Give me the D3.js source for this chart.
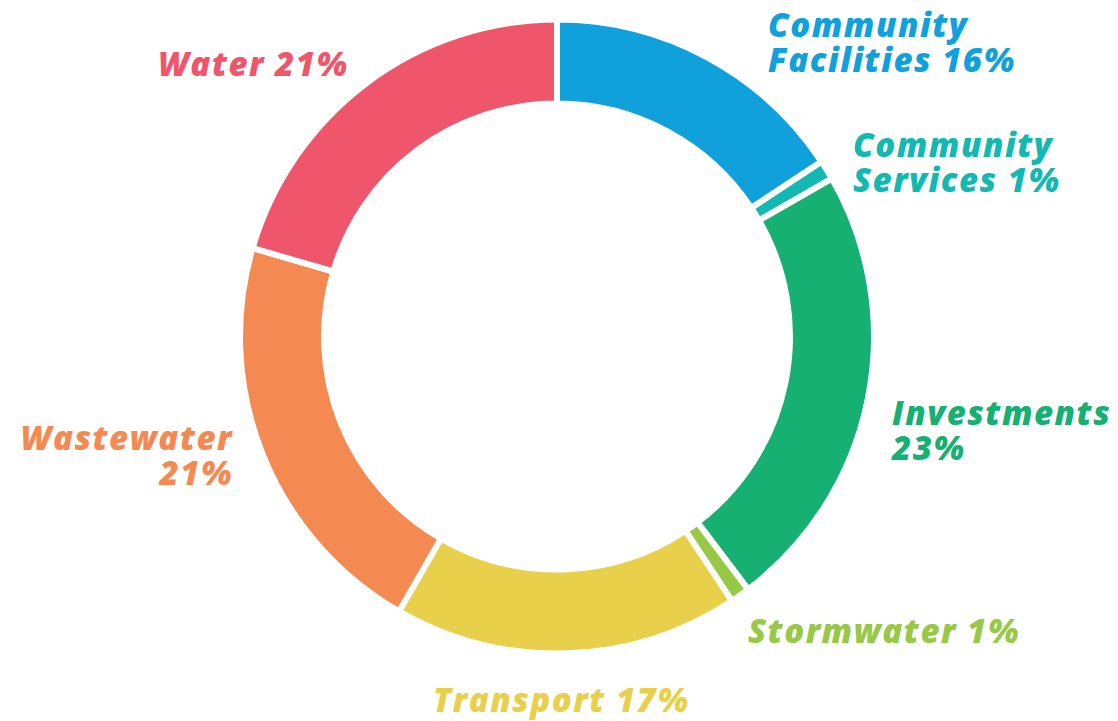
<!DOCTYPE html>
<html>
<head>
<meta charset="utf-8">
<script src="https://cdn.jsdelivr.net/npm/d3@7"></script>
<style>
  body { margin: 0; background: #fff; }
  text { font-family: "Open Sans", Lato, sans-serif; font-weight: 800; font-style: italic; }
</style>
</head>
<body>
<div id="chart"></div>
<script>
// data
var categories = ['Community Facilities', 'Community Services', 'Investments', 'Stormwater', 'Transport', 'Wastewater', 'Water'];
var shares = [15.7, 1, 23, 1, 17.6, 21.2, 20.5];
var colours = ['#10a1dc', '#12b8b2', '#15b072', '#97c947', '#e8d04a', '#f48a52', '#ef566b'];
// label text lines per slice
var label_lines = [
  ['Community', 'Facilities 16%'],
  ['Community', 'Services 1%'],
  ['Investments', '23%'],
  ['Stormwater 1%'],
  ['Transport 17%'],
  ['Wastewater', '21%'],
  ['Water 21%']
];

// layout
const width = 1118, height = 721;
const cx = 557, cy = 336.5;
const outer_r = 317, inner_r = 233;
const line_h = 35;
// label anchor: x, first baseline y, text-anchor
var label_pos = [
  [768, 37, 'start'],
  [853, 157, 'start'],
  [892, 425, 'start'],
  [748, 643, 'start'],
  [433, 712, 'start'],
  [233, 450, 'end'],
  [158, 76, 'start']
];

var svg = d3.select('#chart').append('svg')
  .attr('width', width)
  .attr('height', height);

var pie = d3.pie().sort(null).value(d => d);
var arc = d3.arc().innerRadius(inner_r).outerRadius(outer_r);

var g = svg.append('g').attr('transform', `translate(${cx},${cy})`);

g.selectAll('path')
  .data(pie(shares))
  .join('path')
  .attr('d', arc)
  .attr('fill', (d, i) => colours[i])
  .attr('stroke', '#fff')
  .attr('stroke-width', 6)
  .attr('stroke-linejoin', 'miter');

// labels, one text per line
var label_rows = [];
label_lines.forEach(function(lines, i){
  lines.forEach(function(t, j){
    label_rows.push({i: i, text: t, x: label_pos[i][0], y: label_pos[i][1] + j * line_h, anchor: label_pos[i][2]});
  });
});

svg.selectAll('text.label')
  .data(label_rows)
  .join('text')
  .attr('class', 'label')
  .attr('x', d => d.x)
  .attr('y', d => d.y)
  .attr('fill', d => colours[d.i])
  .attr('font-size', 33)
  .attr('letter-spacing', 1.5)
  .attr('text-anchor', d => d.anchor)
  .text(d => d.text);
</script>
</body>
</html>
